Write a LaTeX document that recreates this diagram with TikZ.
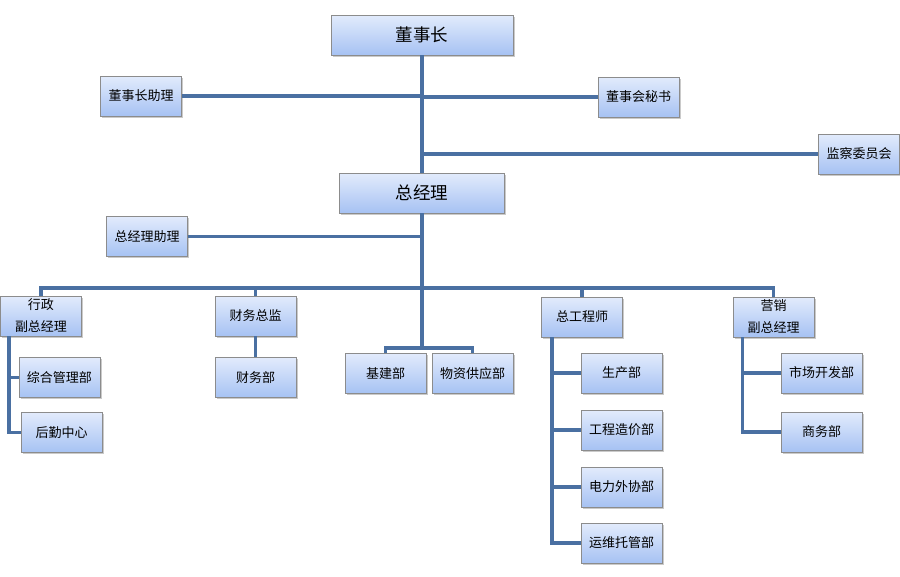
\documentclass[tikz,border=0pt]{standalone}
\usepackage{fontspec}
\setmainfont{Noto Sans CJK SC}
\usepackage{tikz}
\usepackage{xcolor}
\usetikzlibrary{positioning,shadows}
\definecolor{boxtop}{HTML}{E2EBFC}
\definecolor{boxbottom}{HTML}{A6C2F3}
\definecolor{boxline}{HTML}{8C8C8C}
\definecolor{linkblue}{HTML}{4A70A2}
\tikzset{
	box/.style={draw=boxline, line width=0.8pt, top color=boxtop, bottom color=boxbottom,
		minimum width=81pt, minimum height=40pt, inner sep=0pt, align=center,
		font=\fontsize{13}{22}\selectfont,
		drop shadow={shadow xshift=1.5pt, shadow yshift=-1.5pt, opacity=0.35, fill=black!60}},
	bigbox/.style={box, font=\fontsize{17.5}{20}\selectfont},
	link/.style={draw=linkblue, line width=3.2pt}
}
\begin{document}
\begin{tikzpicture}[x=1pt,y=-1pt]
	\useasboundingbox (0,0) rectangle (900,576);
	%top
	\node[bigbox, minimum width=182pt] (dsz) at (422,35) {董事长};
	\node[box] (dszzl) at (141,96) {董事长助理};
	\node[box] (dshms) at (638.5,97) {董事会秘书};
	\node[box] (jcwyh) at (859,154) {监察委员会};
	\node[bigbox, minimum width=165pt] (zjl) at (422,193) {总经理};
	\node[box] (zjlzl) at (147,236.5) {总经理助理};
	%
	%second row
	\node[box] (xz) at (41,316) {行政\\副总经理};
	\node[box] (cwzj) at (255.5,316) {财务总监};
	\node[box] (zgcs) at (582,317) {总工程师};
	\node[box] (yx) at (773.5,317) {营销\\副总经理};
	%
	%departments
	\node[box] (zhgl) at (59.5,377.5) {综合管理部};
	\node[box] (hqzx) at (61.5,432.5) {后勤中心};
	\node[box] (cwb) at (255.5,377.5) {财务部};
	\node[box] (jjb) at (385.5,373.5) {基建部};
	\node[box] (wzgy) at (472.5,373.5) {物资供应部};
	\node[box] (scb) at (621.5,373) {生产部};
	\node[box] (gczj) at (621.5,430) {工程造价部};
	\node[box] (dlwx) at (621.5,487) {电力外协部};
	\node[box] (ywtg) at (621.5,543) {运维托管部};
	\node[box] (sckf) at (821.5,373) {市场开发部};
	\node[box] (swb) at (821.5,432) {商务部};
	%
	\coordinate (bus) at (422,288);
	\coordinate (fork) at (422,348);
	%
	%links
	\draw[link] (dsz.south) -- (zjl.north);
	\draw[link] (dszzl.east) -- (dszzl.east -| dsz.south);
	\draw[link] (dshms.west) -- (dshms.west -| dsz.south);
	\draw[link] (jcwyh.west) -- (jcwyh.west -| dsz.south);
	\draw[link] (zjlzl.east) -- (zjlzl.east -| zjl.south);
	\draw[link] (zjl.south) -- (fork);
	\draw[link] (xz.north) |- (bus) -| (yx.north);
	\draw[link] (cwzj.north) -- (cwzj.north |- bus);
	\draw[link] (zgcs.north) -- (zgcs.north |- bus);
	\draw[link] (jjb.north) |- (fork) -| (wzgy.north);
	\draw[link] (cwzj.south) -- (cwb.north);
	\draw[link] ([xshift=-32pt]xz.south) |- (zhgl.west);
	\draw[link] ([xshift=-32pt]xz.south) |- (hqzx.west);
	\draw[link] ([xshift=-30pt]zgcs.south) |- (scb.west);
	\draw[link] ([xshift=-30pt]zgcs.south) |- (gczj.west);
	\draw[link] ([xshift=-30pt]zgcs.south) |- (dlwx.west);
	\draw[link] ([xshift=-30pt]zgcs.south) |- (ywtg.west);
	\draw[link] ([xshift=-31pt]yx.south) |- (sckf.west);
	\draw[link] ([xshift=-31pt]yx.south) |- (swb.west);
\end{tikzpicture}
\end{document}
